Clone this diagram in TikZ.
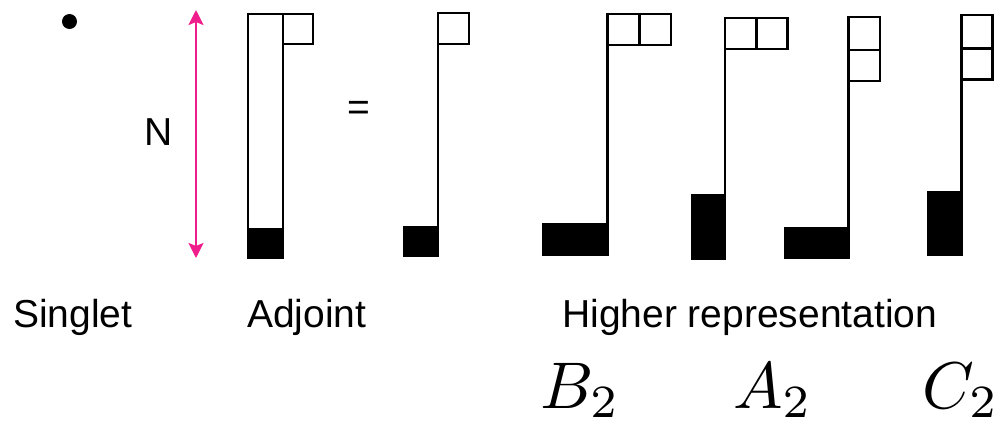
\documentclass[tikz,border=0pt]{standalone}
\usepackage[no-math]{fontspec}
\usetikzlibrary{arrows.meta}
\newfontfamily\arial{Liberation Sans}
\definecolor{npink}{RGB}{240,30,140}
\newcommand{\bigmath}[1]{\scalebox{6.6}{$#1$}}
\begin{document}
\begin{tikzpicture}[x=1pt,y=-1pt,
  frame/.style={draw=black,line width=2.6pt},
  blk/.style={fill=black},
  lbl/.style={font=\arial\fontsize{39}{47}\selectfont,inner sep=0pt,anchor=base west},
  mth/.style={inner sep=0pt,anchor=base west},
  narrow/.style={draw=npink,line width=2.4pt,{Stealth[length=15pt,width=15pt,inset=3pt]}-{Stealth[length=15pt,width=15pt,inset=3pt]}}]
\useasboundingbox (0,0) rectangle (1000,423);
\fill[white] (0,0) rectangle (1000,423);
% singlet dot
\fill (69.5,21.5) circle (7.5pt);
% N arrow
\coordinate (ntop) at (196,10);
\coordinate (nbot) at (196,258);
\draw[narrow] (ntop) -- (nbot);
\node[lbl] (N) at (144,145) {N};
% adjoint column
\draw[frame] (248,14) rectangle (283,258);
\fill[blk] (248,228) rectangle (283,258);
\draw[frame] (283,14) rectangle (313,44);
\node[lbl] (eq) at (347,120) {=};
% second adjoint form
\draw[frame] (438,13) rectangle (469,44);
\draw[frame] (438,44) -- (438,226);
\fill[blk] (403,226) rectangle (439.3,257);
% B2
\draw[frame] (607.7,14) rectangle (639.3,45);
\draw[frame] (639.3,14) rectangle (671,45);
\draw[frame] (607.7,45) -- (607.7,223);
\fill[blk] (542,223) rectangle (609,256);
% A2
\draw[frame] (725,18) rectangle (756.7,49);
\draw[frame] (756.7,18) rectangle (787.3,49);
\draw[frame] (725,49) -- (725,194);
\fill[blk] (690.5,194) rectangle (726.3,260);
% third
\draw[frame] (848.3,17) rectangle (880,50);
\draw[frame] (848.3,50) rectangle (880,81);
\draw[frame] (848.3,81) -- (848.3,227);
\fill[blk] (784,227) rectangle (849.6,259.3);
% C2
\draw[frame] (961.7,15) rectangle (992.7,48.3);
\draw[frame] (961.7,48.3) rectangle (992.7,79.3);
\draw[frame] (961.7,79.3) -- (961.7,191);
\fill[blk] (927.3,191) rectangle (963,256);
% labels
\node[lbl] (singlet) at (13,327) {Singlet};
\node[lbl] (adjoint) at (247,327) {Adjoint};
\node[lbl] (higher) at (562,327) {Higher representation};
\node[mth] (b2) at (540,408) {\bigmath{B_2}};
\node[mth] (a2) at (733,408) {\bigmath{A_2}};
\node[mth] (c2) at (922,408) {\bigmath{C_2}};
\end{tikzpicture}
\end{document}
